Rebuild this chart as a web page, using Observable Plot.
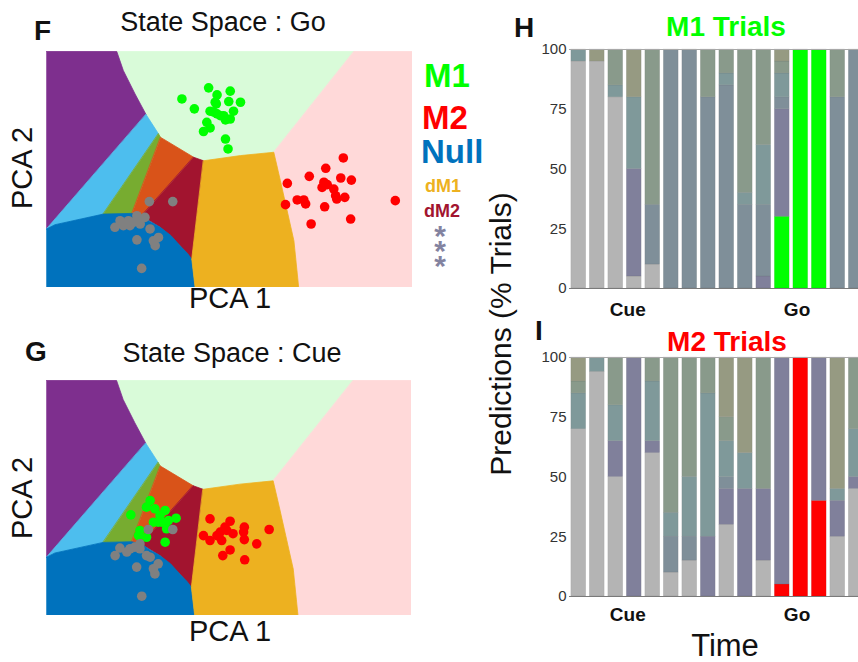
<!DOCTYPE html>
<html><head><meta charset="utf-8">
<script src="https://cdn.jsdelivr.net/npm/d3@7"></script>
<script src="https://cdn.jsdelivr.net/npm/@observablehq/plot@0.6"></script>
<style>
html,body{margin:0;padding:0;background:#fff;overflow:hidden;}
#fig{position:relative;width:858px;height:662px;overflow:hidden;font-family:"Liberation Sans",Arial,sans-serif;}
#fig > svg{position:absolute;}
</style></head><body><div id="fig"></div>
<script>
// ---------- State-space regions (PCA units, 0-100) ----------
const regLightGreen = [[19.2,100],[84,100],[62.1,57.3],[53,55.9],[42.9,53.7],[40.2,55.2],[36.5,58],[32.9,61.5],[30.6,65.1],[27.2,73.3],[24.2,82],[21,91.9]];
const regPink = [[84,100],[100,100],[100,0],[68.9,0],[67.6,19.8],[63.9,45.3],[62.1,57.3]];
const regPurple = [[0,100],[19.2,100],[21,91.9],[24.2,82],[27.2,73.3],[0,24.8]];
const regLightBlue = [[27.2,73.3],[30.6,65.1],[15.5,31.1],[2.3,26.6],[0,24.8]];
const regOlive = [[30.6,65.1],[31.2,63.6],[23.3,31.1],[15.5,31.1]];
const regOrange = [[31.2,63.6],[40.2,55.2],[26,30.4],[23.3,31.1]];
const regDarkRed = [[40.2,55.2],[42.9,53.7],[39.7,12],[36.5,17.7],[31.1,25.5],[26,30.4]];
const regBlue = [[0,24.8],[2.3,26.6],[15.5,31.1],[23.3,31.4],[26,30.4],[28.3,28],[31.1,25.5],[34,22],[36.5,17.7],[38.5,14.5],[39.7,12],[40.6,0],[0,0]];
const regGold = [[42.9,53.7],[53,55.9],[62.1,57.3],[63.9,45.3],[67.6,19.8],[68.9,0],[40.6,0],[39.7,12]];

// ---------- Trials projected in state space ----------
const goM1 = [[37,79.9],[40.4,75.7],[44.3,84.6],[46.6,81.6],[46.1,78.5],[50.2,83.2],[49.8,78.8],[53,78.5],[44.7,74.7],[46.6,73.6],[48.4,72.8],[51.1,74.7],[50.2,71.4],[48.9,71],[43.8,70],[44.7,67.6],[42.9,66.1],[48.9,62.9],[49.6,58.7],[47.5,72.8],[45.7,74.3],[46.4,77.8]];
const goM2 = [[81.1,54.9],[76.3,50.5],[71.8,47.1],[65.8,44.1],[75.8,44.6],[80.4,46.4],[83.3,45.5],[75.3,42.4],[78.5,41.7],[79,38.9],[81.5,38.2],[79.3,37.5],[68.5,37.1],[70.3,37.1],[70.8,35.4],[65.3,35.1],[76,34.2],[95.3,36.8],[83.1,29],[72.3,26.9],[76.7,43.6]];
const goNull = [[28.1,36.4],[34.5,36.4],[24.7,30.4],[26.9,29.7],[22.4,28.3],[20.1,28.3],[18.7,25.5],[23.7,27.6],[25.6,26.9],[28.3,24.8],[30.6,21.2],[29.2,19.8],[29.7,17.7],[24.7,20.2],[26,8.1],[22.8,26.2],[21,26.2],[25.6,29]];
const cueM1 = [[28.4,48.9],[27.4,46.1],[29.7,45.4],[32.5,44.7],[23.1,42.8],[35.5,41.4],[31.1,42.6],[29.3,39.7],[30.6,39.7],[32.9,36.9],[25.6,36.2],[25.2,34],[27.4,33.3],[32.5,31.2],[33.4,40.4],[31.6,39.7]];
const cueM2 = [[44.8,41.1],[50.3,40.1],[48.9,37.6],[47.6,35.5],[54.2,37.6],[54,35.5],[43,34],[44.8,31.9],[48,31.9],[51.1,34.8],[54.2,32.3],[57.6,30.5],[61,36.6],[50.3,27.9],[48.3,25.5],[54.3,23.7],[46.7,34],[49.4,36.2]];
const cueNull = [[27.9,36.6],[34.6,36.6],[25.6,30.5],[24.2,29.1],[22.9,28.4],[20.1,28.7],[18.8,25.5],[22,27],[27.4,25.5],[28.4,24.8],[30.6,22],[29.3,19.9],[29.7,17.7],[24.7,20.6],[26.1,8.2],[25.6,28.4]];

// ---------- Predictions (% trials) per time bin ----------
const times = [1,2,3,4,5,6,7,8,9,10,11,12,13,14,15,16];
const timeTickPos = [3.65, 12.8];
const timeTickLabels = ["Cue","Go"];
const yTicks = [0,25,50,75,100];
const categories = ["gray","M","purple","slate","teal","sage","khaki"];
const m1Gray   = [95,95,80,5,10,0,0,0,0,0,0,0,0,0,0,0];
const m1M1     = [0,0,0,0,0,0,0,0,0,0,0,30,100,100,0,0];
const m1Purple = [0,0,0,45,0,0,0,0,0,0,5,45,0,0,0,0];
const m1Slate  = [0,0,0,0,25,100,100,80,85,35,30,5,0,0,80,100];
const m1Teal   = [5,0,5,30,0,0,0,0,5,5,25,10,0,0,0,0];
const m1Sage   = [0,0,15,0,65,0,0,20,10,60,40,5,0,0,20,0];
const m1Khaki  = [0,5,0,20,0,0,0,0,0,0,0,5,0,0,0,0];
const m2Gray   = [70,94,50,0,60,10,15,0,30,0,15,0,0,0,25,45];
const m2M2     = [0,0,0,0,0,0,0,0,0,0,0,5,100,40,0,0];
const m2Purple = [0,0,15,100,5,0,0,25,15,45,30,95,0,60,15,5];
const m2Slate  = [0,0,0,0,0,15,10,0,5,0,0,0,0,0,0,0];
const m2Teal   = [15,6,15,0,25,10,25,60,15,15,0,0,0,0,5,20];
const m2Sage   = [5,0,20,0,10,65,50,15,10,0,55,0,0,0,0,30];
const m2Khaki  = [10,0,0,0,0,0,0,0,25,40,0,0,0,0,55,0];

// ---------- styles ----------
const FONT = '"Liberation Sans", Arial, sans-serif';
const col = {lightGreen:"#d9fbd9", pink:"#ffd9d9", purple:"#7e2f8e", lightBlue:"#4dbeee", olive:"#77ac30",
  orange:"#d95319", darkRed:"#a2142f", blue:"#0072bd", gold:"#edb120"};
const fig = document.getElementById("fig");

function place(svg, left, top){ svg.style.left = left+"px"; svg.style.top = top+"px"; fig.appendChild(svg); }

function statePlot(m1, m2, nul, w, h){
  const regs = [[regLightGreen,col.lightGreen],[regPink,col.pink],[regPurple,col.purple],[regLightBlue,col.lightBlue],
    [regOlive,col.olive],[regOrange,col.orange],[regDarkRed,col.darkRed],[regBlue,col.blue],[regGold,col.gold]];
  const marks = regs.map(([r,c]) => Plot.line(r, {x: d=>d[0], y: d=>d[1], curve: "linear-closed", fill: c, stroke: c, strokeWidth: 0.8}));
  marks.push(Plot.ruleY([0], {stroke: "#c8ccd4", strokeWidth: 1}));
  marks.push(Plot.dot(m1, {x: d=>d[0], y: d=>d[1], r: 4.8, fill: "#00ff00"}));
  marks.push(Plot.dot(m2, {x: d=>d[0], y: d=>d[1], r: 4.8, fill: "#ff0000"}));
  marks.push(Plot.dot(nul, {x: d=>d[0], y: d=>d[1], r: 4.8, fill: "#808080"}));
  return Plot.plot({width: w, height: h, margin: 0, x: {domain: [0,100], axis: null}, y: {domain: [0,100], axis: null}, marks});
}

place(statePlot(goM1, goM2, goNull, 366, 236), 46, 51);
place(statePlot(cueM1, cueM2, cueNull, 365, 235), 46, 380);

function barPlot(series, mColor, tickDy, height){
  const rows = [];
  categories.forEach((c, ci) => times.forEach((t, i) => rows.push({t, cat: c, v: series[ci][i]})));
  const ticks = timeTickPos.map((p, i) => ({p, label: timeTickLabels[i]}));
  return Plot.plot({
    width: 335, height, marginLeft: 39, marginRight: 0, marginTop: 9, marginBottom: height - 9 - 239,
    style: {fontFamily: FONT, fontSize: "15px", color: "#333", background: "transparent"},
    x: {domain: [0.5, 16.5], axis: null},
    y: {domain: [0,100], ticks: yTicks, tickSize: 0, tickPadding: 3, label: null},
    color: {domain: categories, range: ["#b4b4b4", mColor, "#80809b", "#7f8f99", "#7f999a", "#899a8b", "#969a82"]},
    marks: [
      Plot.rect(rows, Plot.stackY({x1: d=>d.t-0.5, x2: d=>d.t+0.5, y: "v", fill: "cat", insetLeft: 1.85, insetRight: 1.85, stroke: "#000", strokeOpacity: 0.12, strokeWidth: 0.6})),
      Plot.ruleY([100], {stroke: "#a8a8a8", strokeWidth: 1.2}),
      Plot.ruleY([0], {stroke: "#7a7a7a", strokeWidth: 1.2}),
      Plot.text(ticks, {x: "p", y: () => 0, text: "label", dy: tickDy, fontWeight: "bold", fontSize: 19, fill: "#111"})
    ]
  });
}
place(barPlot([m1Gray,m1M1,m1Purple,m1Slate,m1Teal,m1Sage,m1Khaki], "#00ff00", 21, 290), 530, 40);
place(barPlot([m2Gray,m2M2,m2Purple,m2Slate,m2Teal,m2Sage,m2Khaki], "#ff0000", 18, 299), 530, 348);

// ---------- annotation layer ----------
const ann = d3.select(fig).append("svg").attr("width", 858).attr("height", 662)
  .style("left","0px").style("top","0px").style("pointer-events","none").style("font-family", FONT);
function txt(s, x, y, o = {}){
  const t = ann.append("text").text(s).attr("x", x).attr("y", y)
    .attr("font-size", o.size || 26).attr("font-weight", o.weight || "normal")
    .attr("fill", o.fill || "#111").attr("text-anchor", o.anchor || "start");
  if (o.rotate) t.attr("x", 0).attr("y", 0).attr("transform", `translate(${x},${y}) rotate(-90)`);
  return t;
}
txt("F", 34, 40, {size: 28, weight: "bold"});
txt("State Space : Go", 223, 31, {size: 27, anchor: "middle"});
txt("PCA 2", 32, 168, {size: 29, anchor: "middle", rotate: true});
txt("PCA 1", 230, 308, {size: 29, anchor: "middle"});
txt("G", 25, 361, {size: 28, weight: "bold"});
txt("State Space : Cue", 232, 362, {size: 27, anchor: "middle"});
txt("PCA 2", 32, 498, {size: 29, anchor: "middle", rotate: true});
txt("PCA 1", 230, 641, {size: 29, anchor: "middle"});
// legend
txt("M1", 424, 87, {size: 33, weight: "bold", fill: "#00ff00"});
txt("M2", 422, 129, {size: 33, weight: "bold", fill: "#ff0000"});
txt("Null", 421, 163, {size: 33, weight: "bold", fill: "#0072bd"});
txt("dM1", 425, 192, {size: 18, weight: "bold", fill: "#edb120"});
txt("dM2", 424, 217, {size: 18, weight: "bold", fill: "#a2142f"});
// three stacked asterisks as one vertical text
ann.append("text").text("***").attr("x", 440).attr("y", 219)
  .attr("font-size", 30).attr("font-weight", "bold").attr("fill", "#8383a0")
  .style("writing-mode", "vertical-rl").style("text-orientation", "upright").style("letter-spacing", "-18px");
// bar panels
txt("H", 514, 37, {size: 28, weight: "bold"});
txt("M1 Trials", 726, 36, {size: 28, weight: "bold", fill: "#00ff00", anchor: "middle"});
txt("I", 535, 340, {size: 28, weight: "bold"});
txt("M2 Trials", 727, 351, {size: 28, weight: "bold", fill: "#ff0000", anchor: "middle"});
txt("Predictions (% Trials)", 511, 334, {size: 30, anchor: "middle", rotate: true});
txt("Time", 725, 656, {size: 31, anchor: "middle"});
</script></body></html>
